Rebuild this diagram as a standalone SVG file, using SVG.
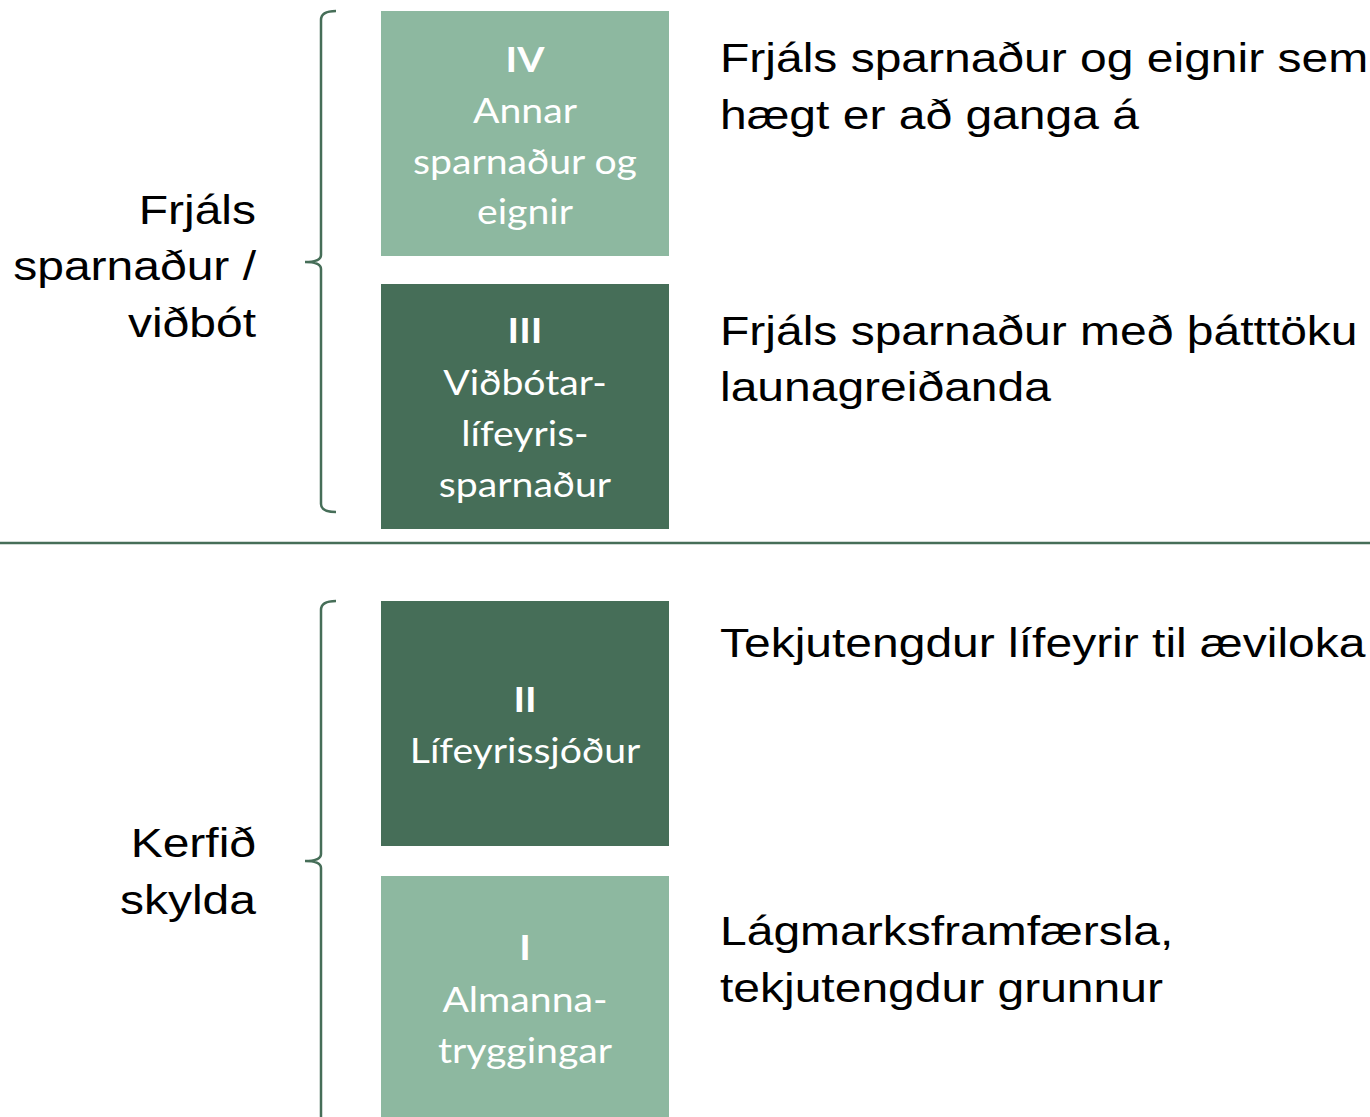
<svg xmlns="http://www.w3.org/2000/svg" width="1370" height="1117" viewBox="0 0 1370 1117">
<style>
.light{fill:#8db8a0}
.dark{fill:#466e58}
.bt{font-family:Lato,"Open Sans",sans-serif;font-size:35px;fill:#ffffff;text-anchor:middle}
.b{font-weight:bold}
.rt{font-family:"Liberation Sans",Arial,sans-serif;font-size:40px;fill:#000000}
.lt{font-family:"Liberation Sans",Arial,sans-serif;font-size:40px;fill:#000000;text-anchor:end}
.br{fill:none;stroke:#466e58;stroke-width:2.5}
</style>
<rect width="1370" height="1117" fill="#ffffff"/>
<g id="connectors">
<path class="br" d="M336,11 Q321,11 321,20 L321,255 Q321,262 305,262 Q321,262 321,269 L321,504 Q321,512 336,512"/>
<path class="br" d="M336,601 Q321,601 321,610 L321,854 Q321,861 305,861 Q321,861 321,868 L321,1117"/>
<line x1="0" y1="543" x2="1370" y2="543" stroke="#466e58" stroke-width="2.5"/>
</g>
<g id="node-iv">
<rect class="light" x="381" y="11" width="288" height="245"/>
<text class="bt" transform="translate(525,0) scale(1.12,1)"><tspan class="b" x="0" y="72">IV</tspan><tspan x="0" y="123">Annar</tspan><tspan x="0" y="174">sparnaður og</tspan><tspan x="0" y="224">eignir</tspan></text>
</g>
<g id="node-iii">
<rect class="dark" x="381" y="284" width="288" height="245"/>
<text class="bt" transform="translate(525,0) scale(1.12,1)"><tspan class="b" x="0" y="343">III</tspan><tspan x="0" y="395">Viðbótar-</tspan><tspan x="0" y="446">lífeyris-</tspan><tspan x="0" y="497">sparnaður</tspan></text>
</g>
<g id="node-ii">
<rect class="dark" x="381" y="601" width="288" height="245"/>
<text class="bt" transform="translate(525,0) scale(1.12,1)"><tspan class="b" x="0" y="712">II</tspan><tspan x="0" y="763">Lífeyrissjóður</tspan></text>
</g>
<g id="node-i">
<rect class="light" x="381" y="876" width="288" height="245"/>
<text class="bt" transform="translate(525,0) scale(1.12,1)"><tspan class="b" x="0" y="960">I</tspan><tspan x="0" y="1012">Almanna-</tspan><tspan x="0" y="1063">tryggingar</tspan></text>
</g>
<g id="label-frjals">
<text class="lt" transform="translate(256,0) scale(1.2,1)"><tspan x="0" y="224">Frjáls</tspan><tspan x="0" y="280">sparnaður /</tspan><tspan x="0" y="337">viðbót</tspan></text>
</g>
<g id="label-kerfid">
<text class="lt" transform="translate(256,0) scale(1.2,1)"><tspan x="0" y="857">Kerfið</tspan><tspan x="0" y="914">skylda</tspan></text>
</g>
<g id="desc-iv">
<text class="rt" transform="translate(720,0) scale(1.2,1)"><tspan x="0" y="72">Frjáls sparnaður og eignir sem</tspan><tspan x="0" y="129">hægt er að ganga á</tspan></text>
</g>
<g id="desc-iii">
<text class="rt" transform="translate(720,0) scale(1.2,1)"><tspan x="0" y="345">Frjáls sparnaður með þátttöku</tspan><tspan x="0" y="401">launagreiðanda</tspan></text>
</g>
<g id="desc-ii">
<text class="rt" transform="translate(720,0) scale(1.2,1)"><tspan x="0" y="657">Tekjutengdur lífeyrir til æviloka</tspan></text>
</g>
<g id="desc-i">
<text class="rt" transform="translate(720,0) scale(1.2,1)"><tspan x="0" y="945">Lágmarksframfærsla,</tspan><tspan x="0" y="1002">tekjutengdur grunnur</tspan></text>
</g>
</svg>
